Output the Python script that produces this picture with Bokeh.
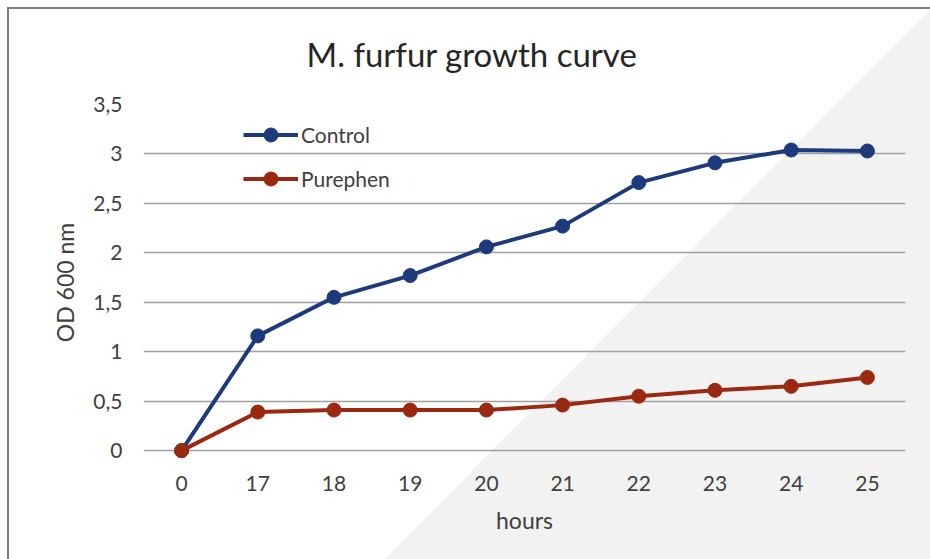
from bokeh.plotting import figure
from bokeh.models import FactorRange, Range1d, Legend, LegendItem
from bokeh.embed import file_html
from bokeh.resources import INLINE

hours = ["0", "17", "18", "19", "20", "21", "22", "23", "24", "25"]
control = [0.0, 1.16, 1.55, 1.77, 2.06, 2.27, 2.71, 2.91, 3.04, 3.03]
purephen = [0.0, 0.39, 0.41, 0.41, 0.41, 0.46, 0.55, 0.61, 0.65, 0.74]
y_ticks = [0, 0.5, 1, 1.5, 2, 2.5, 3, 3.5]
y_tick_labels = ["0", "0,5", "1", "1,5", "2", "2,5", "3", "3,5"]

FONT = "Lato"
TXT = "#404040"
BLUE = "#1d3a7c"
RED = "#9b2810"

W, H = 930, 559
bg = ", ".join([
    "linear-gradient(#ffffff, #ffffff) 0px 0px / 930px 7px no-repeat",
    "linear-gradient(#7f7f7f, #7f7f7f) 7px 7px / 2px 552px no-repeat",
    "linear-gradient(#7f7f7f, #7f7f7f) 7px 7px / 923px 2px no-repeat",
    "linear-gradient(134.75deg, #ffffff 666.8px, #f2f2f2 666.8px)",
])

p = figure(
    width=W, height=H,
    x_range=FactorRange(*hours, range_padding=0),
    y_range=Range1d(-0.1, 3.5),
    output_backend="svg", toolbar_location=None,
    min_border_left=143, min_border_right=25, min_border_top=104, min_border_bottom=99,
    border_fill_color=None, background_fill_color=None,
    outline_line_color=None,
    title="M. furfur growth curve",
    styles={"background": bg},
)

p.title.text_font = FONT
p.title.text_font_size = "33px"
p.title.text_font_style = "normal"
p.title.text_color = "#262626"
p.title.align = "left"
p.title.offset = 163
p.title.standoff = 62

# axes
for ax in (p.xaxis[0], p.yaxis[0]):
    ax.axis_line_color = None
    ax.major_tick_line_color = None
    ax.minor_tick_line_color = None
    ax.major_tick_out = 0
    ax.major_tick_in = 0
    ax.major_label_text_font = FONT
    ax.major_label_text_font_size = "21px"
    ax.major_label_text_color = TXT
    ax.axis_label_text_font = FONT
    ax.axis_label_text_font_size = "23px"
    ax.axis_label_text_font_style = "normal"
    ax.axis_label_text_color = TXT

p.xaxis.axis_label = "hours"
p.xaxis.major_label_standoff = 15
p.xaxis.axis_label_standoff = 12
p.yaxis.axis_label = "OD 600 nm"
p.yaxis.major_label_standoff = 21
p.yaxis.axis_label_standoff = 11
p.yaxis.ticker = y_ticks
p.yaxis.major_label_overrides = {t: l for t, l in zip(y_ticks, y_tick_labels)}

p.xgrid.grid_line_color = None
p.ygrid.ticker = y_ticks
p.ygrid.grid_line_color = "#a0a0a0"
p.ygrid.grid_line_width = 1.3

l1 = p.line(hours, control, line_color=BLUE, line_width=4, line_join="round")
s1 = p.scatter(hours, control, size=14, fill_color=BLUE, line_color=BLUE)
l2 = p.line(hours, purephen, line_color=RED, line_width=4, line_join="round")
s2 = p.scatter(hours, purephen, size=14, fill_color=RED, line_color=RED)

legend = Legend(
    items=[LegendItem(label="Control", renderers=[l1, s1]),
           LegendItem(label="Purephen", renderers=[l2, s2])],
    location=(100, 264),
    orientation="vertical",
    glyph_width=55, glyph_height=35, label_height=35,
    spacing=9, padding=0, margin=0, label_standoff=3,
    border_line_color=None, background_fill_alpha=0,
    label_text_font=FONT, label_text_font_size="21px", label_text_color=TXT,
)
p.add_layout(legend, "center")

open("out.html", "w").write(file_html(p, INLINE))
